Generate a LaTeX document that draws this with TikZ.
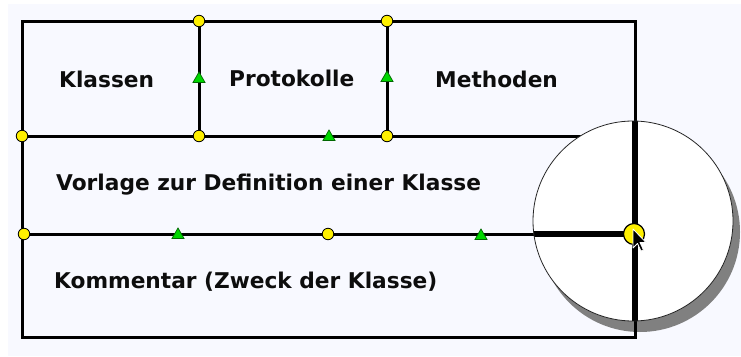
\documentclass[tikz,border=0pt]{standalone}
\usepackage{fontspec}
\setmainfont{DejaVu Sans}
\usetikzlibrary{shapes.geometric}
\definecolor{bgc}{RGB}{248,249,255}
\definecolor{dotyellow}{RGB}{255,240,0}
\definecolor{trigreen}{RGB}{0,215,0}
\definecolor{shadowgray}{RGB}{128,128,128}
\begin{document}
\begin{tikzpicture}[x=1pt,y=-1pt,
 frame/.style={line width=3pt,black},
 thickline/.style={line width=5.5pt,black},
 ydot/.style={circle,fill=dotyellow,draw=black,line width=0.8pt,minimum size=11.5pt,inner sep=0pt},
 bigdot/.style={circle,fill=dotyellow,draw=black,line width=1.2pt,minimum size=21pt,inner sep=0pt},
 gtri/.style={regular polygon,regular polygon sides=3,fill=trigreen,draw=black!60!green,line width=0.7pt,minimum size=14pt,inner sep=0pt},
 lbl/.style={anchor=base west,inner sep=0pt,font=\fontsize{21.7}{26}\selectfont\bfseries,text=black!95}]
\useasboundingbox (0,0) rectangle (741,356);
\fill[white] (0,0) rectangle (741,356);
\fill[bgc] (8,4) rectangle (741,356);
% shadow of magnifier
\fill[shadowgray] (640,232) circle[radius=100];
% corners
\coordinate (tl) at (22,21);
\coordinate (tr) at (635,21);
\coordinate (br) at (635,337);
\coordinate (bl) at (22,337);
\coordinate (r1) at (635,136);
% dot positions
\coordinate (d1) at (199,21);
\coordinate (d2) at (387,21);
\coordinate (d3) at (22,136);
\coordinate (d4) at (199,136);
\coordinate (d5) at (387,136);
\coordinate (d6) at (24,234);
\coordinate (d7) at (328,234);
% lines
\draw[frame] (tl) -- (tr) -- (br) -- (bl) -- cycle;
\draw[frame] (d3) -- (r1);
\draw[frame] (d1) -- (d4);
\draw[frame] (d2) -- (d5);
\draw[frame] (d6) -- (br |- d6);
% dots on top
\foreach \n in {d1,d2,d3,d4,d5,d6,d7}
  \node[ydot] (n\n) at (\n) {};
% triangles
\node[gtri] (t1) at (199,79) {};
\node[gtri] (t2) at (387,78) {};
\node[gtri] (t3) at (329,137) {};
\node[gtri] (t4) at (178,235) {};
\node[gtri] (t5) at (481,236) {};
% labels
\node[lbl] (kl) at (59,87) {Klassen};
\node[lbl] (pr) at (229,86) {Protokolle};
\node[lbl] (me) at (435,87) {Methoden};
\node[lbl] (vo) at (56,190) {Vorlage zur Definition einer Klasse};
\node[lbl] (ko) at (54,288) {Kommentar (Zweck der Klasse)};
% magnifier
\fill[white] (633,221) circle[radius=100];
\begin{scope}
  \clip (633,221) circle[radius=100];
  \draw[thickline] (635,100) -- (635,340);
  \draw[thickline] (520,234) -- (635,234);
\end{scope}
\draw[black!85,line width=0.8pt] (633,221) circle[radius=100];
\node[bigdot] (dc) at (634,234) {};
% cursor
\draw[fill=black,draw=white,line width=0.8pt,line join=round]
  (633,229) -- (633,248) -- (637.5,243.5) -- (641,251) -- (643.5,250) -- (640,242.5) -- (646,242.5) -- cycle;
\end{tikzpicture}
\end{document}
